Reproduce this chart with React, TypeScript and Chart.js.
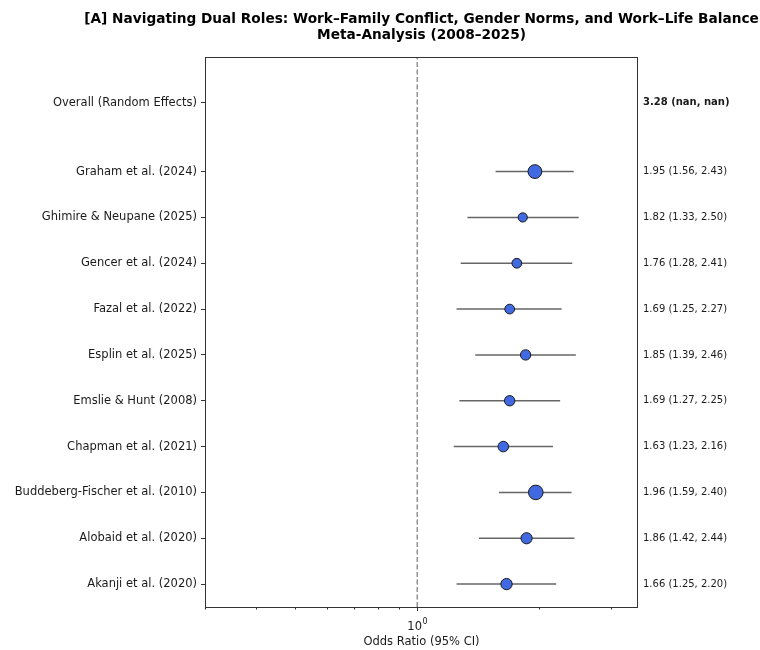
import React, { useEffect, useRef } from 'react';
import { Chart, registerables } from 'chart.js';

Chart.register(...registerables);

const titleLines = [
  '[A] Navigating Dual Roles: Work–Family Conflict, Gender Norms, and Work–Life Balance',
  'Meta-Analysis (2008–2025)',
];

// Studies in display order (top to bottom)
const studies = [
  'Graham et al. (2024)',
  'Ghimire & Neupane (2025)',
  'Gencer et al. (2024)',
  'Fazal et al. (2022)',
  'Esplin et al. (2025)',
  'Emslie & Hunt (2008)',
  'Chapman et al. (2021)',
  'Buddeberg-Fischer et al. (2010)',
  'Alobaid et al. (2020)',
  'Akanji et al. (2020)',
];
const oddsRatios = [1.95, 1.82, 1.76, 1.69, 1.85, 1.69, 1.63, 1.96, 1.86, 1.66];
const lowerCI = [1.56, 1.33, 1.28, 1.25, 1.39, 1.27, 1.23, 1.59, 1.42, 1.25];
const upperCI = [2.43, 2.5, 2.41, 2.27, 2.46, 2.25, 2.16, 2.4, 2.44, 2.2];
// estimated relative study weights (%), shown by marker area
const studyWeights = [15.2, 6.8, 7.6, 7.6, 8.6, 8.6, 8.9, 17.0, 10.0, 10.3];

const overallLabel = 'Overall (Random Effects)';
const overallText = '3.28 (nan, nan)';
const xAxisLabel = 'Odds Ratio (95% CI)';
const xMajorTicks = [1];
const xMinorTicks = [0.3, 0.4, 0.5, 0.6, 0.7, 0.8, 0.9, 2, 3];
const xRange = [0.3, 3.5];

const FONT = '"DejaVu Sans", sans-serif';

export default function App() {
  const canvasRef = useRef<HTMLCanvasElement | null>(null);

  useEffect(() => {
    const canvas = canvasRef.current;
    if (!canvas) return;
    const n = studies.length;
    const rowY = studies.map((_, i) => n - 1 - i);
    const overallY = n + 0.5;
    const yTickValues = [...rowY].reverse().concat([overallY]);
    const yLabelFor = (v: number) => {
      if (Math.abs(v - overallY) < 1e-6) return overallLabel;
      const idx = rowY.findIndex((r) => Math.abs(r - v) < 1e-6);
      return idx >= 0 ? studies[idx] : '';
    };

    const ciDatasets = studies.map((s, i) => ({
      type: 'scatter' as const,
      label: s + ' CI',
      data: [
        { x: lowerCI[i], y: rowY[i] },
        { x: upperCI[i], y: rowY[i] },
      ],
      showLine: true,
      borderColor: '#666666',
      borderWidth: 1.5,
      pointRadius: 0,
      pointHoverRadius: 0,
      order: 2,
    }));

    const decor = {
      id: 'forestDecor',
      afterDraw(chart: any) {
        const { ctx, chartArea: a, scales } = chart;
        const xs = scales.x;
        const ys = scales.y;
        ctx.save();
        // frame
        ctx.strokeStyle = '#333333';
        ctx.lineWidth = 1;
        ctx.strokeRect(a.left + 0.5, a.top + 0.5, a.right - a.left - 1, a.bottom - a.top);
        // x ticks
        ctx.beginPath();
        xMinorTicks.forEach((v) => {
          const px = Math.round(xs.getPixelForValue(v)) + 0.5;
          ctx.moveTo(px, a.bottom);
          ctx.lineTo(px, a.bottom + 2.5);
        });
        xMajorTicks.forEach((v) => {
          const px = Math.round(xs.getPixelForValue(v)) + 0.5;
          ctx.moveTo(px, a.bottom);
          ctx.lineTo(px, a.bottom + 4);
        });
        ctx.stroke();
        // major tick labels 10^k
        ctx.fillStyle = '#1a1a1a';
        ctx.textBaseline = 'alphabetic';
        xMajorTicks.forEach((v) => {
          const px = xs.getPixelForValue(v);
          const exp = String(Math.round(Math.log10(v)));
          ctx.font = `11.5px ${FONT}`;
          const wBase = ctx.measureText('10').width;
          ctx.font = `8px ${FONT}`;
          const wExp = ctx.measureText(exp).width;
          const start = px - (wBase + wExp) / 2;
          ctx.textAlign = 'left';
          ctx.font = `11.5px ${FONT}`;
          ctx.fillText('10', start, a.bottom + 23);
          ctx.font = `8px ${FONT}`;
          ctx.fillText(exp, start + wBase + 0.5, a.bottom + 17);
        });
        // axis title
        ctx.font = `11.5px ${FONT}`;
        ctx.textAlign = 'center';
        ctx.textBaseline = 'middle';
        ctx.fillText(xAxisLabel, (a.left + a.right) / 2, a.bottom + 35);
        // right-side annotations
        ctx.textAlign = 'left';
        ctx.textBaseline = 'middle';
        ctx.font = `bold 10px ${FONT}`;
        ctx.fillText(overallText, a.right + 5, ys.getPixelForValue(overallY));
        ctx.font = `10px ${FONT}`;
        studies.forEach((_, i) => {
          const txt = `${oddsRatios[i].toFixed(2)} (${lowerCI[i].toFixed(2)}, ${upperCI[i].toFixed(2)})`;
          ctx.fillText(txt, a.right + 5, ys.getPixelForValue(rowY[i]));
        });
        // title
        ctx.fillStyle = '#000000';
        ctx.textAlign = 'center';
        ctx.font = `bold 13.7px ${FONT}`;
        const cx = (a.left + a.right) / 2;
        ctx.fillText(titleLines[0], cx, 19);
        ctx.fillText(titleLines[1], cx, 35);
        ctx.restore();
      },
    };

    const chart = new Chart(canvas, {
      type: 'scatter',
      data: {
        datasets: [
          {
            type: 'scatter',
            label: 'Odds ratio',
            data: studies.map((_, i) => ({ x: oddsRatios[i], y: rowY[i] })),
            pointRadius: studyWeights.map((w) => 1.77 * Math.sqrt(w)),
            pointHoverRadius: studyWeights.map((w) => 1.77 * Math.sqrt(w)),
            backgroundColor: '#4169E1',
            borderColor: '#1a1a1a',
            borderWidth: 1,
            order: 1,
          },
          ...ciDatasets,
          {
            type: 'scatter',
            label: 'No effect',
            data: [
              { x: 1, y: -0.5 },
              { x: 1, y: n + 1.5 },
            ],
            showLine: true,
            borderColor: '#777777',
            borderWidth: 1.2,
            borderDash: [5, 2.5],
            pointRadius: 0,
            pointHoverRadius: 0,
            order: 3,
          },
        ] as any,
      },
      options: {
        animation: false,
        responsive: false,
        devicePixelRatio: 1,
        layout: { padding: { left: 0, top: 57, right: 122, bottom: 0 } },
        plugins: {
          legend: { display: false },
          tooltip: { enabled: false },
          title: { display: false },
        },
        scales: {
          x: {
            type: 'logarithmic',
            min: xRange[0],
            max: xRange[1],
            grid: { display: false },
            border: { display: false },
            ticks: { display: false },
            afterFit: (s: any) => {
              s.height = 43;
            },
          },
          y: {
            type: 'linear',
            min: -0.5,
            max: n + 1.5,
            afterBuildTicks: (s: any) => {
              s.ticks = yTickValues.map((v) => ({ value: v }));
            },
            afterFit: (s: any) => {
              s.width = 205;
            },
            grid: {
              drawOnChartArea: false,
              drawTicks: true,
              tickLength: 4,
              color: '#333333',
            },
            border: { display: false },
            ticks: {
              autoSkip: false,
              padding: 4,
              color: '#1a1a1a',
              font: { family: FONT, size: 11.5 },
              callback: (v: any) => yLabelFor(Number(v)),
            },
          },
        },
      },
      plugins: [decor],
    });

    return () => chart.destroy();
  }, []);

  return (
    <div style={{ position: 'fixed', left: 0, top: 0, width: 760, height: 650, background: '#fff' }}>
      <canvas ref={canvasRef} width={760} height={650} />
    </div>
  );
}
